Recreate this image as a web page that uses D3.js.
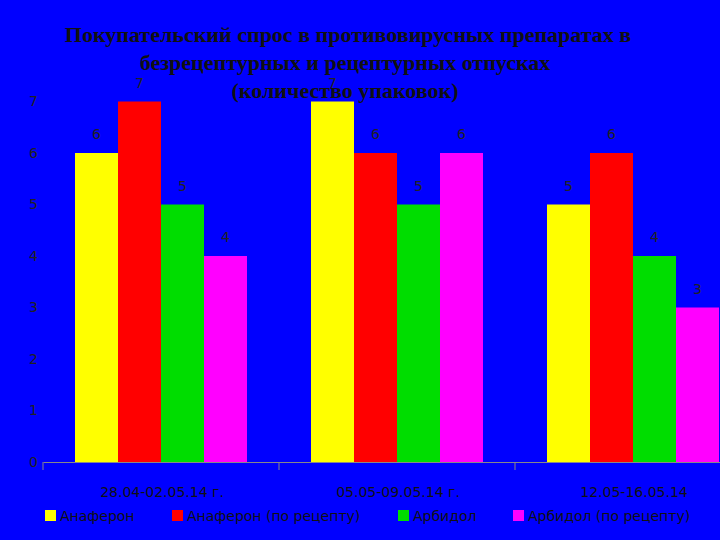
<!DOCTYPE html>
<html><head><meta charset="utf-8">
<script src="https://cdn.jsdelivr.net/npm/d3@7"></script>
<style>body{margin:0;background:#0000ff;} svg{display:block;}</style>
</head><body>
<svg id="chart" width="720" height="540"></svg>
<script>
var categories = ["28.04-02.05.14 г.", "05.05-09.05.14 г.", "12.05-16.05.14"];
var seriesNames = ["Анаферон", "Анаферон (по рецепту)", "Арбидол", "Арбидол (по рецепту)"];
var seriesColors = ["#ffff00", "#ff0000", "#00dd00", "#ff00ff"];
var values = [
  [6, 7, 5, 4],
  [7, 6, 5, 6],
  [5, 6, 4, 3]
];
var yTicks = [0, 1, 2, 3, 4, 5, 6, 7];
var titleLines = ["Покупательский спрос в противовирусных препаратах в",
  "безрецептурных и рецептурных отпусках", "(количество упаковок)"];

var svg = d3.select("#chart");
svg.append("rect").attr("width", 720).attr("height", 540).attr("fill", "#0000ff");

var x0 = d3.scaleBand().domain(categories).range([43, 751]).paddingInner(0).paddingOuter(0);
var x1 = d3.scaleBand().domain(seriesNames).range([32, x0.bandwidth() - 32]);
var y = d3.scaleLinear().domain([0, 7]).range([462, 101.5]);

// bars
var groups = svg.selectAll(".grp")
  .data(categories)
  .enter()
  .append("g")
  .attr("transform", (d) => `translate(${x0(d)},0)`);

groups.selectAll("rect")
  .data((d, i) => values[i].map((v, j) => ({ v: v, s: seriesNames[j], c: seriesColors[j] })))
  .enter()
  .append("rect")
  .attr("x", (d) => x1(d.s))
  .attr("width", x1.bandwidth())
  .attr("y", (d) => y(d.v))
  .attr("height", (d) => y(0) - y(d.v))
  .attr("fill", (d) => d.c);

groups.selectAll("text")
  .data((d, i) => values[i].map((v, j) => ({ v: v, s: seriesNames[j] })))
  .enter()
  .append("text")
  .attr("x", (d) => x1(d.s) + x1.bandwidth() / 2)
  .attr("y", (d) => y(d.v) - 14)
  .attr("text-anchor", "middle")
  .style("font-family", "DejaVu Sans, sans-serif")
  .style("font-size", "14px")
  .attr("fill", "#222")
  .text((d) => d.v);

// axes
var xAxis = svg.append("g")
  .attr("transform", `translate(0,${y(0)})`)
  .call(d3.axisBottom(x0).tickSize(8).tickSizeOuter(0).tickFormat(""));
xAxis.selectAll("line").attr("stroke", "#888").attr("transform", (d) => `translate(${-x0.bandwidth() / 2},0)`);
xAxis.select(".domain").attr("stroke", "#888");

var yAxis = svg.append("g")
  .attr("transform", "translate(43,0)")
  .call(d3.axisLeft(y).tickValues(yTicks).tickFormat(d3.format("d")).tickSize(0).tickPadding(5));
yAxis.select(".domain").remove();
yAxis.selectAll("text")
  .style("font-family", "DejaVu Sans, sans-serif")
  .style("font-size", "14px")
  .attr("fill", "#222");

// category labels
svg.selectAll(".cat")
  .data(categories)
  .enter()
  .append("text")
  .attr("x", (d) => x0(d) + x0.bandwidth() / 2 + 1)
  .attr("y", 497)
  .attr("text-anchor", "middle")
  .style("font-family", "DejaVu Sans, sans-serif")
  .style("font-size", "14px")
  .attr("fill", "#111")
  .text((d) => d);

// legend
var legendX = [45, 172, 398, 513];
var leg = svg.selectAll(".leg")
  .data(seriesNames)
  .enter()
  .append("g")
  .attr("transform", (d, i) => `translate(${legendX[i]},510)`);
leg.append("rect").attr("width", 11).attr("height", 11)
  .attr("fill", (d, i) => seriesColors[i]);
leg.append("text").attr("x", 15).attr("y", 11)
  .style("font-family", "DejaVu Sans, sans-serif")
  .style("font-size", "14px")
  .attr("fill", "#111")
  .text((d) => d);

// title
svg.selectAll(".title")
  .data(titleLines)
  .enter()
  .append("text")
  .attr("x", (d, i) => i === 0 ? 348 : 345)
  .attr("y", (d, i) => 42 + i * 28)
  .attr("text-anchor", "middle")
  .style("font-family", "Liberation Serif, serif")
  .style("font-weight", "bold")
  .style("font-size", "22px")
  .attr("fill", "#111")
  .text((d) => d);
</script>
</body></html>
